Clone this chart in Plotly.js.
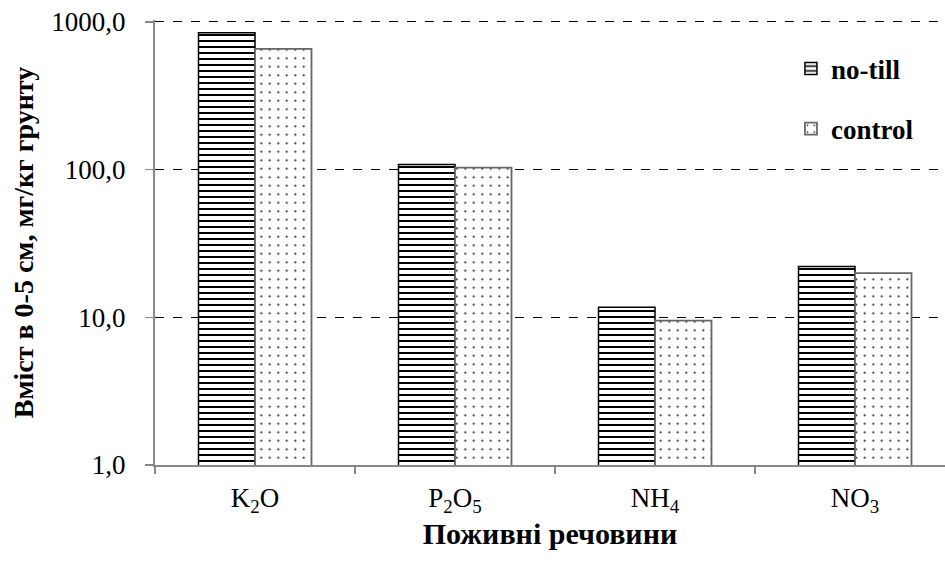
<!DOCTYPE html>
<html>
<head>
<meta charset="utf-8">
<script src="https://cdn.plot.ly/plotly-3.0.1.min.js"></script>
<style>html,body{margin:0;padding:0;background:#fff;}#chart{width:945px;height:561px;}</style>
</head>
<body>
<div id="chart"></div>
<script>
const categories = ["K<sub>2</sub>O", "P<sub>2</sub>O<sub>5</sub>", "NH<sub>4</sub>", "NO<sub>3</sub>"];
const noTill = [843, 108, 11.7, 22.1];
const control = [656, 103, 9.5, 19.9];
const tickVals = [1, 10, 100, 1000];
const tickText = ["1,0", "10,0", "100,0", "1000,0"];
const seriesNames = ["no-till", "control"];

const serif = "Liberation Serif, Times New Roman, serif";

const traces = [
  {
    type: "bar", name: seriesNames[0], x: categories, y: noTill, legendgroup: "a",
    marker: { color: "#ffffff", line: { color: "#000000", width: 1.5 },
      pattern: { shape: "-", size: 6, solidity: 0.33, fgcolor: "#000000", bgcolor: "#ffffff" } }
  },
  {
    type: "bar", name: seriesNames[1], x: categories, y: control, legendgroup: "b",
    marker: { color: "#ffffff", line: { color: "#666666", width: 1.8 },
      pattern: { shape: ".", size: 8.5, solidity: 0.045, fgcolor: "#000000", bgcolor: "#ffffff" } }
  }
];

const layout = {
  width: 945, height: 561,
  margin: { l: 155, r: 0, t: 20, b: 96 },
  paper_bgcolor: "#ffffff", plot_bgcolor: "#ffffff",
  barmode: "group", bargap: 0.435, bargroupgap: 0,
  showlegend: true,
  legend: { x: 0.805, y: 0.945, xanchor: "left", yanchor: "top", bgcolor: "rgba(0,0,0,0)",
    font: { family: serif, size: 27, color: "#000", weight: "bold" }, tracegroupgap: 22,
    itemwidth: 30 },
  xaxis: {
    type: "category", range: [-0.5, 3.45],
    showline: true, linecolor: "#888888", linewidth: 2,
    ticks: "outside", tickson: "boundaries", ticklen: 7, tickcolor: "#888888", tickwidth: 1.5,
    tickfont: { family: serif, size: 27, color: "#000" }, ticklabelstandoff: 8,
    showgrid: false,
    title: { text: "Поживні речовини", font: { family: serif, size: 30, color: "#000", weight: "bold" }, standoff: 2 }
  },
  yaxis: {
    type: "log", range: [0, 3.012],
    tickvals: tickVals, ticktext: tickText,
    showline: true, linecolor: "#888888", linewidth: 2,
    ticks: "outside", ticklen: 8, tickcolor: "#888888", tickwidth: 1.5,
    tickfont: { family: serif, size: 27, color: "#000" }, ticklabelstandoff: 14,
    showgrid: true, gridcolor: "#000000", gridwidth: 1, griddash: "dash",
    zeroline: false,
    title: { text: "Вміст в 0-5 см, мг/кг грунту", font: { family: serif, size: 28, color: "#000", weight: "bold" }, standoff: 10 }
  }
};

Plotly.newPlot("chart", traces, layout, { displayModeBar: false, staticPlot: true });
</script>
</body>
</html>
